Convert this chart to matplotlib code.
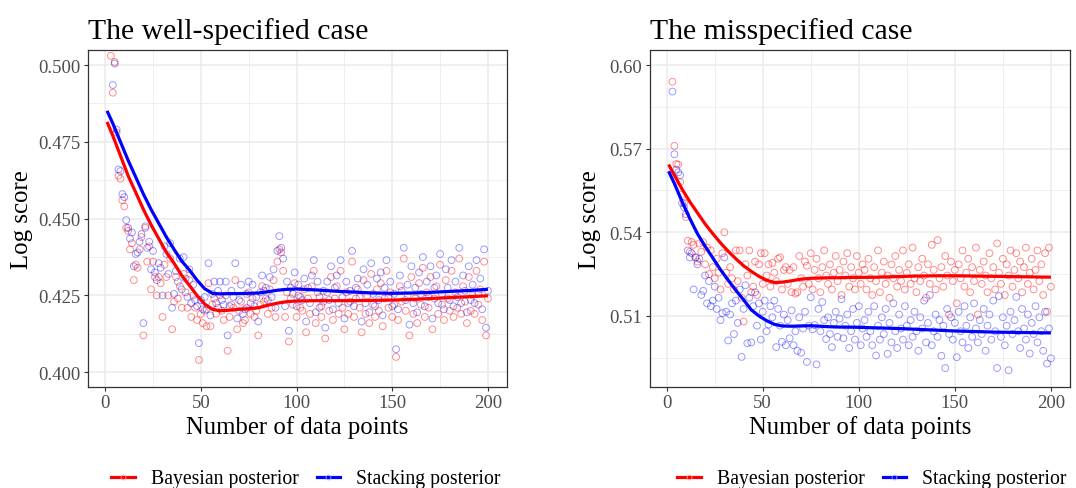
import numpy as np
import matplotlib
matplotlib.use("Agg")
import matplotlib.pyplot as plt
from matplotlib.lines import Line2D
from matplotlib.ticker import FixedLocator, FormatStrFormatter

plt.rcParams['font.family'] = ['Liberation Serif', 'DejaVu Serif']

# number of data points (x) for the scatter
n_points = np.arange(3, 201)

# well-specified case, log score per run
bayes_well = [
    0.503, 0.491, 0.501, 0.478, 0.464, 0.463, 0.456, 0.454, 0.447, 0.446,
    0.440, 0.442, 0.430, 0.435, 0.434, 0.440, 0.444, 0.412, 0.447, 0.436,
    0.441, 0.427, 0.436, 0.431, 0.425, 0.431, 0.429, 0.418, 0.435, 0.431,
    0.425, 0.437, 0.414, 0.423, 0.431, 0.424, 0.428, 0.421, 0.432, 0.426,
    0.421, 0.430, 0.418, 0.425, 0.421, 0.417, 0.404, 0.419, 0.416, 0.420,
    0.415, 0.429, 0.415, 0.422, 0.424, 0.419, 0.421, 0.425, 0.420, 0.417,
    0.425, 0.407, 0.418, 0.422, 0.421, 0.430, 0.414, 0.420, 0.423, 0.416,
    0.417, 0.421, 0.426, 0.419, 0.424, 0.418, 0.420, 0.412, 0.422, 0.428,
    0.423, 0.424, 0.419, 0.427, 0.421, 0.430, 0.418, 0.436, 0.440, 0.439,
    0.433, 0.418, 0.426, 0.410, 0.424, 0.422, 0.429, 0.418, 0.425, 0.421,
    0.420, 0.427, 0.413, 0.424, 0.419, 0.428, 0.433, 0.416, 0.426, 0.421,
    0.418, 0.423, 0.411, 0.426, 0.420, 0.431, 0.417, 0.424, 0.428, 0.419,
    0.433, 0.421, 0.414, 0.426, 0.419, 0.423, 0.436, 0.418, 0.424, 0.427,
    0.421, 0.413, 0.430, 0.419, 0.425, 0.416, 0.432, 0.422, 0.418, 0.427,
    0.420, 0.429, 0.415, 0.424, 0.433, 0.421, 0.426, 0.418, 0.422, 0.405,
    0.417, 0.428, 0.423, 0.437, 0.420, 0.425, 0.412, 0.431, 0.419, 0.424,
    0.416, 0.429, 0.422, 0.434, 0.418, 0.426, 0.421, 0.431, 0.414, 0.424,
    0.428, 0.419, 0.435, 0.422, 0.417, 0.430, 0.424, 0.420, 0.433, 0.418,
    0.426, 0.421, 0.437, 0.419, 0.428, 0.423, 0.416, 0.431, 0.420, 0.425,
    0.419, 0.433, 0.422, 0.427, 0.417, 0.436, 0.412, 0.424,
]
stack_well = [
    0.507, 0.4935, 0.5005, 0.479, 0.466, 0.4655, 0.458, 0.457, 0.4495, 0.447,
    0.4435, 0.4455, 0.4345, 0.4385, 0.439, 0.4425, 0.445, 0.416, 0.4475, 0.4405,
    0.4425, 0.4335, 0.4395, 0.4325, 0.430, 0.4355, 0.434, 0.425, 0.441, 0.4385,
    0.432, 0.442, 0.421, 0.4255, 0.433, 0.4295, 0.437, 0.427, 0.4375, 0.4305,
    0.4245, 0.4335, 0.4225, 0.4285, 0.4235, 0.4215, 0.4095, 0.4235, 0.4205, 0.4245,
    0.4205, 0.4355, 0.4185, 0.4255, 0.4295, 0.4225, 0.4265, 0.4295, 0.4235, 0.422,
    0.4295, 0.412, 0.4215, 0.4265, 0.4245, 0.4355, 0.4175, 0.4235, 0.4285, 0.419,
    0.4205, 0.4255, 0.4295, 0.4225, 0.4285, 0.4215, 0.4245, 0.4165, 0.426, 0.4315,
    0.4265, 0.4275, 0.4235, 0.431, 0.4245, 0.4335, 0.421, 0.4395, 0.4443, 0.4405,
    0.437, 0.4215, 0.4295, 0.4135, 0.4275, 0.4255, 0.4325, 0.4215, 0.4285, 0.4245,
    0.4235, 0.4305, 0.4165, 0.4275, 0.4225, 0.4315, 0.4365, 0.4195, 0.4295, 0.4245,
    0.4215, 0.4265, 0.4145, 0.4295, 0.4235, 0.4345, 0.4205, 0.4275, 0.4315, 0.4225,
    0.4365, 0.4245, 0.4175, 0.4295, 0.4225, 0.4265, 0.4395, 0.4215, 0.4275, 0.4305,
    0.4245, 0.4165, 0.4335, 0.4225, 0.4285, 0.4195, 0.4355, 0.4255, 0.4215, 0.4305,
    0.4235, 0.4325, 0.4185, 0.4275, 0.4365, 0.4245, 0.4295, 0.4215, 0.4255, 0.4075,
    0.4205, 0.4315, 0.4265, 0.4405, 0.4235, 0.4285, 0.4155, 0.4345, 0.4225, 0.4275,
    0.4195, 0.4325, 0.4255, 0.4375, 0.4215, 0.4295, 0.4245, 0.4345, 0.4175, 0.4275,
    0.4315, 0.4225, 0.4385, 0.4255, 0.4205, 0.4335, 0.4275, 0.4235, 0.4365, 0.4215,
    0.4295, 0.4245, 0.4405, 0.4225, 0.4315, 0.4265, 0.4195, 0.4345, 0.4235, 0.4285,
    0.4225, 0.4365, 0.4255, 0.4305, 0.4205, 0.4400, 0.4145, 0.4265,
]

# misspecified case
bayes_mis = [
    0.594, 0.571, 0.5645, 0.5643, 0.558, 0.5535, 0.5505, 0.5455, 0.537, 0.533,
    0.5365, 0.5355, 0.531, 0.5295, 0.536, 0.533, 0.5365, 0.5285, 0.5345, 0.525,
    0.5335, 0.5275, 0.5235, 0.5305, 0.5255, 0.5195, 0.5325, 0.540, 0.5255, 0.5215,
    0.5275, 0.5235, 0.5195, 0.5335, 0.5225, 0.5335, 0.5165, 0.508, 0.5285, 0.5245,
    0.5335, 0.5185, 0.5205, 0.5295, 0.5175, 0.5285, 0.5325, 0.5215, 0.5325, 0.5245,
    0.5285, 0.5205, 0.529, 0.5255, 0.5225, 0.5305, 0.531, 0.5195, 0.5265, 0.5275,
    0.5215, 0.5265, 0.5185, 0.5275, 0.518, 0.5185, 0.5315, 0.5235, 0.5205, 0.5295,
    0.528, 0.5215, 0.5325, 0.5195, 0.5265, 0.5305, 0.5235, 0.5185, 0.5275, 0.5335,
    0.5245, 0.5215, 0.5285, 0.5195, 0.5255, 0.5315, 0.5225, 0.5265, 0.5175, 0.5295,
    0.5245, 0.5325, 0.5205, 0.5275, 0.5235, 0.5195, 0.5315, 0.5255, 0.5215, 0.5285,
    0.5265, 0.5195, 0.5305, 0.5235, 0.5175, 0.5275, 0.5225, 0.5335, 0.5185, 0.5255,
    0.5295, 0.5215, 0.5245, 0.5165, 0.5285, 0.5235, 0.5315, 0.5205, 0.5265, 0.5225,
    0.5335, 0.5195, 0.5255, 0.5285, 0.5215, 0.5345, 0.5235, 0.5185, 0.5275, 0.5225,
    0.5305, 0.5245, 0.5165, 0.5285, 0.5215, 0.5355, 0.5265, 0.5195, 0.5372, 0.5235,
    0.5275, 0.5205, 0.5315, 0.5245, 0.5105, 0.5295, 0.5225, 0.5265, 0.5145, 0.5285,
    0.5235, 0.5335, 0.5205, 0.5255, 0.5305, 0.5185, 0.5275, 0.5225, 0.5345, 0.5105,
    0.5265, 0.5215, 0.5295, 0.5245, 0.5185, 0.5325, 0.5235, 0.5275, 0.5195, 0.536,
    0.5255, 0.5215, 0.5305, 0.5175, 0.5285, 0.5245, 0.5335, 0.5205, 0.5265, 0.5325,
    0.5235, 0.5295, 0.5185, 0.5275, 0.5345, 0.5215, 0.5255, 0.5305, 0.5195, 0.5265,
    0.5335, 0.5225, 0.5285, 0.5175, 0.5325, 0.5115, 0.5345, 0.5205,
]
stack_mis = [
    0.5905, 0.568, 0.5625, 0.5615, 0.5605, 0.5505, 0.549, 0.5465, 0.5335, 0.531,
    0.5325, 0.5195, 0.531, 0.5285, 0.5305, 0.5175, 0.519, 0.5245, 0.5145, 0.5225,
    0.5135, 0.5155, 0.5205, 0.5125, 0.5165, 0.5085, 0.511, 0.531, 0.5115, 0.5012,
    0.5105, 0.5145, 0.5035, 0.5155, 0.5075, 0.5195, 0.4953, 0.5125, 0.521, 0.5002,
    0.5165, 0.5005, 0.5135, 0.5185, 0.5065, 0.5145, 0.5015, 0.5115, 0.5155, 0.5045,
    0.5069, 0.5135, 0.5095, 0.5155, 0.4988, 0.5125, 0.5065, 0.5007, 0.5105, 0.4995,
    0.5085, 0.502, 0.512, 0.4995, 0.5045, 0.4975, 0.5095, 0.4968, 0.5055, 0.5115,
    0.4935, 0.5065, 0.5167, 0.5052, 0.5067, 0.4926, 0.5125, 0.5045, 0.515, 0.5085,
    0.5017, 0.5095, 0.5035, 0.4988, 0.5075, 0.5115, 0.5025, 0.509, 0.5160, 0.502,
    0.5065, 0.5105, 0.4985, 0.5045, 0.5125, 0.5015, 0.5075, 0.5135, 0.4995, 0.5055,
    0.5085, 0.5025, 0.5115, 0.5045, 0.4995, 0.5135, 0.4958, 0.5065, 0.5015, 0.5095,
    0.5035, 0.5125, 0.4964, 0.5075, 0.5005, 0.5145, 0.5045, 0.4985, 0.5105, 0.5055,
    0.5015, 0.5135, 0.5065, 0.4995, 0.5085, 0.5025, 0.5115, 0.5045, 0.4975, 0.5095,
    0.5055, 0.5155, 0.5005, 0.5075, 0.5175, 0.4995, 0.5045, 0.5105, 0.5025, 0.5085,
    0.4957, 0.5065, 0.4913, 0.5125, 0.5035, 0.5095, 0.5015, 0.5075, 0.4952, 0.5115,
    0.5045, 0.5005, 0.5135, 0.5065, 0.4985, 0.5095, 0.5025, 0.5145, 0.5055, 0.5005,
    0.5085, 0.5035, 0.5125, 0.4975, 0.5065, 0.5105, 0.5015, 0.5155, 0.5045, 0.4913,
    0.5171, 0.5025, 0.5095, 0.4995, 0.5065, 0.4905, 0.5115, 0.5035, 0.5085, 0.5168,
    0.5045, 0.4985, 0.5125, 0.5055, 0.5015, 0.5105, 0.4965, 0.5075, 0.5035, 0.5135,
    0.5005, 0.5095, 0.5045, 0.4975, 0.5115, 0.4929, 0.5055, 0.4948,
]

# smoothed trend lines
smooth_x = [1, 4, 8, 12, 16, 20, 24, 28, 32, 36, 40, 44, 48, 52, 56, 60, 65, 70,
            75, 80, 85, 90, 95, 100, 110, 120, 130, 140, 150, 160, 170, 180, 190, 200]
bayes_well_fit = [0.4815, 0.4770, 0.4705, 0.4640, 0.4585, 0.4530, 0.4480, 0.4435,
                  0.4390, 0.4355, 0.4315, 0.4283, 0.4250, 0.4222, 0.4205, 0.4200,
                  0.4202, 0.4205, 0.4207, 0.4210, 0.4218, 0.4225, 0.4230, 0.4232,
                  0.4233, 0.4233, 0.4233, 0.4234, 0.4235, 0.4237, 0.4240, 0.4243,
                  0.4246, 0.4249]
stack_well_fit = [0.4851, 0.4810, 0.4750, 0.4690, 0.4635, 0.4580, 0.4530, 0.4485,
                  0.4440, 0.4400, 0.4362, 0.4333, 0.4300, 0.4272, 0.4257, 0.4255,
                  0.4256, 0.4256, 0.4257, 0.4258, 0.4262, 0.4267, 0.4270, 0.4271,
                  0.4268, 0.4264, 0.4261, 0.4258, 0.4257, 0.4258, 0.4260, 0.4263,
                  0.4266, 0.4270]
bayes_mis_fit = [0.5643, 0.5605, 0.5555, 0.5510, 0.5470, 0.5430, 0.5395, 0.5362,
                 0.5332, 0.5305, 0.5280, 0.5260, 0.5242, 0.5228, 0.5220, 0.5221,
                 0.5226, 0.5232, 0.5235, 0.5236, 0.5237, 0.5237, 0.5238, 0.5238,
                 0.5239, 0.5241, 0.5243, 0.5244, 0.5244, 0.5243, 0.5242, 0.5241,
                 0.5240, 0.5239]
stack_mis_fit = [0.5619, 0.5575, 0.5510, 0.5450, 0.5395, 0.5350, 0.5308, 0.5266,
                 0.5228, 0.5192, 0.5158, 0.5122, 0.5100, 0.5083, 0.5070, 0.5064,
                 0.5063, 0.5064, 0.5065, 0.5063, 0.5061, 0.5060, 0.5060, 0.5059,
                 0.5057, 0.5055, 0.5052, 0.5049, 0.5046, 0.5044, 0.5042, 0.5041,
                 0.5040, 0.5039]

titles = ["The well-specified case", "The misspecified case"]
labels = ["Bayesian posterior", "Stacking posterior"]

W, H = 1076, 489
fig = plt.figure(figsize=(W / 100, H / 100), dpi=100)


def px_axes(l, r, t, b):
    return fig.add_axes([l / W, 1 - b / H, (r - l) / W, (b - t) / H])


ax1 = px_axes(88, 507, 51, 388)
ax2 = px_axes(649.5, 1070, 51, 388)

panels = [
    (ax1, bayes_well, stack_well, bayes_well_fit, stack_well_fit,
     (0.3952, 0.5049), [0.400, 0.425, 0.450, 0.475, 0.500], '%.3f', -0.1575),
    (ax2, bayes_mis, stack_mis, bayes_mis_fit, stack_mis_fit,
     (0.4845, 0.6054), [0.51, 0.54, 0.57, 0.60], '%.2f', -0.1415),
]

for i, (ax, b, s, bf, sf, ylim, yt, fmt, ylab_x) in enumerate(panels):
    ax.scatter(n_points, b, s=24, facecolors='none', edgecolors='red',
               linewidths=0.7, alpha=0.45, zorder=2)
    ax.scatter(n_points, s, s=24, facecolors='none', edgecolors='blue',
               linewidths=0.7, alpha=0.4, zorder=2)
    ax.plot(smooth_x, bf, color='red', lw=2.3, zorder=3, solid_capstyle='butt')
    ax.plot(smooth_x, sf, color='blue', lw=2.3, zorder=3, solid_capstyle='butt')

    ax.set_xlim(-8.95, 209.95)
    ax.set_ylim(*ylim)
    ax.xaxis.set_major_locator(FixedLocator([0, 50, 100, 150, 200]))
    ax.xaxis.set_minor_locator(FixedLocator([25, 75, 125, 175]))
    step = yt[1] - yt[0]
    ax.yaxis.set_major_locator(FixedLocator(yt))
    ax.yaxis.set_minor_locator(FixedLocator([v - step / 2 for v in yt]))
    ax.yaxis.set_major_formatter(FormatStrFormatter(fmt))

    ax.grid(which='major', color='#EBEBEB', lw=1.1, zorder=0)
    ax.grid(which='minor', color='#EBEBEB', lw=0.55, zorder=0)
    ax.set_axisbelow(True)
    for sp in ax.spines.values():
        sp.set_color('#333333')
        sp.set_linewidth(0.9)
    ax.tick_params(which='major', length=2.6, width=0.8, color='#333333',
                   labelsize=13.5, labelcolor='#4D4D4D', pad=2.5)
    ax.tick_params(which='minor', length=0)

    ax.set_xlabel('Number of data points', fontsize=17.8, va='baseline')
    ax.xaxis.set_label_coords(0.5, -0.1365)
    ax.set_ylabel('Log score', fontsize=17.8, va='center')
    ax.yaxis.set_label_coords(ylab_x, 0.5)
    ax.text(0, 1.0368, titles[i], transform=ax.transAxes, fontsize=21.4,
            ha='left', va='baseline')

    handles = [
        Line2D([], [], color='red', lw=2.3, marker='o', ms=3.5,
               mfc='none', mec=(1, 0.6, 0.6), mew=0.6),
        Line2D([], [], color='blue', lw=2.3, marker='o', ms=3.5,
               mfc='none', mec=(0.6, 0.6, 1), mew=0.6),
    ]
    cx = [306, 872][i]
    ax.legend(handles, labels, loc='center', bbox_to_anchor=(cx / W, 1 - 480 / H),
              bbox_transform=fig.transFigure, ncol=2, frameon=False,
              fontsize=14.2, handlelength=1.2, handletextpad=0.8,
              columnspacing=0.9)

fig.savefig('out.png', dpi=100)
